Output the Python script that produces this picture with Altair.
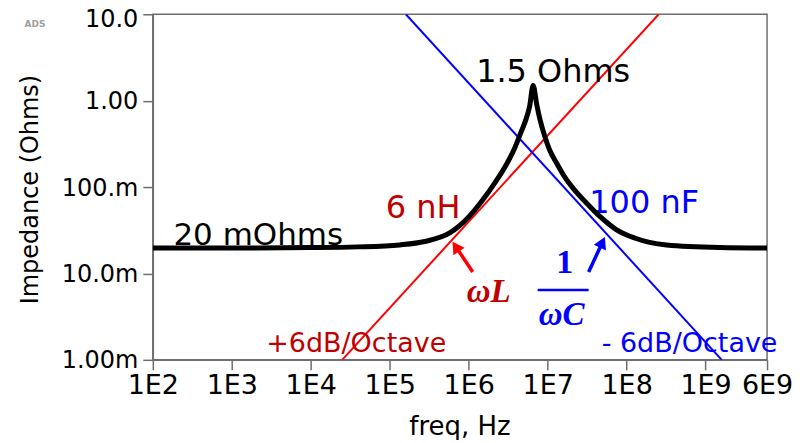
import math
import altair as alt
import pandas as pd

# ---------------- data ----------------
# black |Z| curve: log10(freq / Hz) and impedance in Ohms
curve_logf = [2.0, 3.0, 4.0, 4.595, 5.127, 5.443, 5.759, 6.0, 6.177, 6.329, 6.481, 6.582,
              6.658, 6.722, 6.772, 6.816, 6.861, 6.905, 6.962, 7.025, 7.114, 7.215, 7.342,
              7.494, 7.658, 7.873, 8.101, 8.506, 9.177, 9.778]
curve_z = [0.0197, 0.0197, 0.0199, 0.0203, 0.0214, 0.0234, 0.0294, 0.045, 0.0707, 0.111,
           0.185, 0.282, 0.421, 0.595, 0.864, 1.50, 0.91, 0.595, 0.389, 0.268, 0.189,
           0.131, 0.092, 0.065, 0.046, 0.032, 0.0257, 0.0214, 0.0200, 0.0197]

# omega*L line (red) and 1/(omega*C) line (blue): end points
wl_freq = [2.5e4, 2.55e8]
wl_z = [1.0e-3, 10.0]
wc_freq = [1.6e5, 1.6e9]
wc_z = [10.0, 1.0e-3]

x_ticks = [1e2, 1e3, 1e4, 1e5, 1e6, 1e7, 1e8, 1e9, 6e9]
x_tick_labels = ["1E2", "1E3", "1E4", "1E5", "1E6", "1E7", "1E8", "1E9", "6E9"]
y_ticks = [1e-3, 1e-2, 1e-1, 1.0, 10.0]
y_tick_labels = ["1.00m", "10.0m", "100.m", "1.00", "10.0"]

curve_freq = [10 ** v for v in curve_logf]

# ---------------- helpers ----------------
def label_expr(values, labels):
    parts = []
    for v, l in zip(values, labels):
        parts.append(f"abs(log(datum.value) - {math.log(v):.6f}) < 0.01 ? '{l}' : ")
    return "".join(parts) + "''"

AXIS_GREY = "#6e6e6e"
SANS = "DejaVu Sans"
DARK_RED = "#c00000"
BLUE = "#0000ff"

xs = alt.Scale(type="log", domain=[1e2, 6e9], nice=False)
ys = alt.Scale(type="log", domain=[1e-3, 10.0], nice=False)

xaxis = alt.Axis(values=x_ticks, labelExpr=label_expr(x_ticks, x_tick_labels),
                 grid=False, tickSize=10, tickColor=AXIS_GREY, tickWidth=1.5,
                 domainColor=AXIS_GREY, domainWidth=1.5, labelFont=SANS,
                 labelFontSize=27, labelColor="black", labelPadding=3,
                 labelOverlap=False, labelFlush=False,
                 title="freq, Hz", titleFont=SANS, titleFontSize=26,
                 titleFontWeight="normal", titleColor="black",
                 titleX=307, titleY=75, titleBaseline="alphabetic",
                 titleAlign="center", titleAngle=0)
yaxis = alt.Axis(values=y_ticks, labelExpr=label_expr(y_ticks, y_tick_labels),
                 grid=False, tickSize=10, tickColor=AXIS_GREY, tickWidth=1.5,
                 domainColor=AXIS_GREY, domainWidth=1.5, labelFont=SANS,
                 labelFontSize=24, labelColor="black", labelPadding=5,
                 labelOffset={"condition": {"test": "datum.value > 5", "value": 5},
                              "value": 1},
                 labelOverlap=False, labelFlush=False,
                 title="Impedance (Ohms)", titleFont=SANS, titleFontSize=24,
                 titleFontWeight="normal", titleColor="black",
                 titleX=-115, titleY=175, titleAngle=270,
                 titleAlign="center", titleBaseline="alphabetic")


def X(field="f"):
    return alt.X(f"{field}:Q", scale=xs, axis=xaxis)


def Y(field="z"):
    return alt.Y(f"{field}:Q", scale=ys, axis=yaxis)


def text_layer(text, logf, z, color, size, font=SANS, weight="normal", style="normal"):
    df = pd.DataFrame({"f": [10 ** logf], "z": [z], "t": [text]})
    return alt.Chart(df).mark_text(
        color=color, fontSize=size, font=font, fontWeight=weight, fontStyle=style,
        align="center", baseline="alphabetic"
    ).encode(x=X(), y=Y(), text="t:N")


# ---------------- layers ----------------
wl_line = alt.Chart(pd.DataFrame({"f": wl_freq, "z": wl_z})).mark_line(
    color="#ff0000", strokeWidth=2, clip=True).encode(x=X(), y=Y())
wc_line = alt.Chart(pd.DataFrame({"f": wc_freq, "z": wc_z})).mark_line(
    color=BLUE, strokeWidth=2, clip=True).encode(x=X(), y=Y())

texts = [
    text_layer("1.5 Ohms", 7.070, 10 ** 0.214, "black", 32),
    text_layer("20 mOhms", 3.335, 10 ** -1.671, "black", 31),
    text_layer("6 nH", 5.424, 10 ** -1.358, DARK_RED, 32),
    text_layer("100 nF", 8.222, 10 ** -1.301, BLUE, 32),
    text_layer("+6dB/Octave", 4.576, 10 ** -2.908, DARK_RED, 27),
    text_layer("- 6dB/Octave", 8.797, 10 ** -2.908, BLUE, 27),
    text_layer("ωL", 6.253, 10 ** -2.329, DARK_RED, 33, font="Liberation Serif",
               weight="bold", style="italic"),
    text_layer("1", 7.215, 10 ** -1.994, BLUE, 34, font="Liberation Serif", weight="bold"),
    text_layer("ωC", 7.177, 10 ** -2.595, BLUE, 33, font="Liberation Serif",
               weight="bold", style="italic"),
]

frac_bar = alt.Chart(pd.DataFrame({"f": [10 ** 6.873], "f2": [10 ** 7.519],
                                   "z": [10 ** -2.191]})).mark_rule(
    color=BLUE, strokeWidth=2.5).encode(x=X(), x2="f2:Q", y=Y())

# arrows: shaft + head
red_shaft = alt.Chart(pd.DataFrame({"f": [10 ** 6.051], "f2": [10 ** 5.848],
                                    "z": [10 ** -1.983], "z2": [10 ** -1.705]})).mark_rule(
    color="#ff0000", strokeWidth=3.5).encode(x=X(), x2="f2:Q", y=Y(), y2="z2:Q")
red_head = alt.Chart(pd.DataFrame({"f": [10 ** 5.836], "z": [10 ** -1.69]})).mark_point(
    shape="triangle-up", filled=True, color="#ff0000", size=180, angle=326, opacity=1
).encode(x=X(), y=Y())
blue_shaft = alt.Chart(pd.DataFrame({"f": [10 ** 7.519], "f2": [10 ** 7.684],
                                     "z": [10 ** -1.983], "z2": [10 ** -1.659]})).mark_rule(
    color=BLUE, strokeWidth=3.5).encode(x=X(), x2="f2:Q", y=Y(), y2="z2:Q")
blue_head = alt.Chart(pd.DataFrame({"f": [10 ** 7.693], "z": [10 ** -1.64]})).mark_point(
    shape="triangle-up", filled=True, color=BLUE, size=180, angle=25, opacity=1
).encode(x=X(), y=Y())

curve = alt.Chart(pd.DataFrame({"f": curve_freq, "z": curve_z})).mark_line(
    color="black", strokeWidth=5, interpolate="monotone", clip=True
).encode(x=X(), y=Y())

ads = alt.Chart(pd.DataFrame({"t": ["ADS"]})).mark_text(
    color="#a0a0a0", fontSize=9, font=SANS, fontWeight="bold", align="center",
    baseline="middle"
).encode(x=alt.value(-118), y=alt.value(10), text="t:N")

chart = alt.layer(
    wl_line, wc_line, *texts, frac_bar, red_shaft, red_head, blue_shaft,
    blue_head, ads, curve
).properties(
    width=615, height=346,
    autosize=alt.AutoSizeParams(type="none"),
    padding={"left": 145, "top": 6, "right": 30, "bottom": 80},
    background="white",
).configure_view(stroke=AXIS_GREY, strokeWidth=1.5)

chart.save("out.html", embed_options={"renderer": "svg", "actions": False})
